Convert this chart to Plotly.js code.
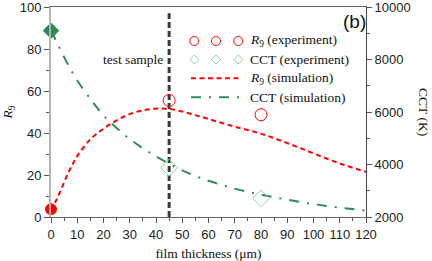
<!DOCTYPE html>
<html>
<head>
<meta charset="utf-8">
<script src="https://cdn.plot.ly/plotly-3.0.1.min.js"></script>
<style>html,body{margin:0;padding:0;background:#fff;}#chart{width:432px;height:261px;}</style>
</head>
<body>
<div id="chart"></div>
<script>
// ---- data ----
const thicknessSim = [0, 2, 4, 6, 8, 10, 15, 20, 25, 30, 35, 40, 45, 50, 55, 60, 70, 80, 90, 100, 110, 120];
const r9Sim = [3, 8, 13.5, 19.5, 24.5, 29, 37, 42, 46, 49, 50.8, 51.6, 51.5, 50.2, 48.5, 46.7, 43, 39.7, 35.2, 30.3, 25.5, 21.5];
const cctSim = [9100, 8700, 8290, 7900, 7530, 7200, 6500, 5870, 5390, 4970, 4620, 4310, 4030, 3780, 3560, 3380, 3080, 2850, 2660, 2490, 2360, 2240];
const thicknessExp = [0, 45, 80];
const r9Exp = [3.7, 55.5, 48.7];
const cctExp = [9100, 3880, 2710];
const testSample = [45];
const xTicks = [0, 10, 20, 30, 40, 50, 60, 70, 80, 90, 100, 110, 120];
const r9Ticks = [0, 20, 40, 60, 80, 100];
const cctTicks = [2000, 4000, 6000, 8000, 10000];
const cctTickText = ['2000', '4000', '6000', '8000', '10000'];

const RED = '#ff0000';
const GREEN = '#2e8b57';
const LGREEN = '#8ccfae';
const serif = 'Liberation Serif';
const sans = 'Liberation Sans';

const traces = [
  { x: [testSample[0], testSample[0]], y: [0, 97], mode: 'lines', xaxis: 'x', yaxis: 'y',
    line: { color: '#3a3a3a', width: 3, dash: '6px,3px' }, showlegend: false, hoverinfo: 'skip' },
  { x: thicknessSim, y: r9Sim, mode: 'lines', xaxis: 'x', yaxis: 'y', line: { color: RED, width: 2, dash: '5px,3.5px', shape: 'spline' }, showlegend: false },
  { x: thicknessSim, y: cctSim, mode: 'lines', xaxis: 'x', yaxis: 'y2', line: { color: GREEN, width: 2, dash: '10px,8px,2px,8px', shape: 'spline' }, showlegend: false },
  { x: thicknessExp, y: r9Exp, mode: 'markers', xaxis: 'x', yaxis: 'y', showlegend: false, cliponaxis: false,
    marker: { symbol: ['circle', 'circle-open', 'circle-open'], size: [11, 12, 12], color: RED, opacity: 1, line: { color: RED, width: 1 } } },
  { x: thicknessExp, y: cctExp, mode: 'markers', xaxis: 'x', yaxis: 'y2', showlegend: false, cliponaxis: false,
    marker: { symbol: ['diamond', 'diamond-open', 'diamond-open'], size: [12, 13, 13], color: [GREEN, LGREEN, LGREEN], opacity: 1, line: { color: [GREEN, LGREEN, LGREEN], width: 1 } } }
];

// custom legend (layout shapes + text)
const px2x = p => (p - 51) / 315;
const px2y = p => (217 - p) / 210;
const legCols = [194.3, 216, 238.3];
const shapes = [];
legCols.forEach(c => {
  shapes.push({ type: 'circle', xref: 'paper', yref: 'paper', xsizemode: 'pixel', ysizemode: 'pixel',
    xanchor: px2x(c), yanchor: px2y(41), x0: -4.5, x1: 4.5, y0: -4.5, y1: 4.5, line: { color: RED, width: 1 } });
  shapes.push({ type: 'path', xref: 'paper', yref: 'paper', xsizemode: 'pixel', ysizemode: 'pixel',
    xanchor: px2x(c), yanchor: px2y(59.5), path: 'M0,-4.5 L4.5,0 L0,4.5 L-4.5,0 Z', line: { color: LGREEN, width: 1 } });
});
shapes.push({ type: 'line', xref: 'paper', yref: 'paper', x0: px2x(191), x1: px2x(242), y0: px2y(78.3), y1: px2y(78.3), line: { color: RED, width: 2, dash: '5px,3.5px' } });
shapes.push({ type: 'line', xref: 'paper', yref: 'paper', x0: px2x(191), x1: px2x(242), y0: px2y(97.3), y1: px2y(97.3), line: { color: GREEN, width: 2, dash: '10px,8px,2px,8px' } });

const legText = ['<i>R</i><sub>9</sub> (experiment)', 'CCT (experiment)', '<i>R</i><sub>9</sub> (simulation)', 'CCT (simulation)'];
const legRows = [41, 59.5, 78.3, 97.3];
const annotations = legText.map((t, i) => ({
  text: t, xref: 'paper', yref: 'paper', x: px2x(248), y: px2y(legRows[i]), xanchor: 'left', yanchor: 'middle',
  showarrow: false, font: { family: serif, size: 13.5, color: '#111' }
}));
annotations.push({ text: 'test sample', xref: 'x', yref: 'y', x: testSample[0] - 1.6, y: 74.8, xanchor: 'right', yanchor: 'middle',
  showarrow: false, font: { family: serif, size: 13.5, color: '#111' } });
annotations.push({ text: '(b)', xref: 'paper', yref: 'paper', x: px2x(354), y: px2y(22), xanchor: 'center', yanchor: 'middle',
  showarrow: false, font: { family: sans, size: 19, color: '#111' } });
annotations.push({ text: 'CCT (K)', xref: 'paper', yref: 'paper', x: px2x(424), y: 0.5, xanchor: 'center', yanchor: 'middle', textangle: 90,
  showarrow: false, font: { family: serif, size: 13.5, color: '#111' } });

const tickFont = { family: sans, size: 13, color: '#222' };
const layout = {
  width: 432, height: 261,
  margin: { l: 51, r: 66, t: 7, b: 44 },
  paper_bgcolor: '#fff', plot_bgcolor: '#fff',
  showlegend: false,
  font: { family: sans, size: 13, color: '#222' },
  xaxis: {
    range: [0, 120], tickvals: xTicks, ticks: 'outside', ticklen: 5, tickcolor: '#555', tickwidth: 1,
    showline: true, linecolor: '#666', linewidth: 1, mirror: true, showgrid: false, zeroline: false,
    minor: { dtick: 5, tick0: 0, ticks: 'outside', ticklen: 3, tickcolor: '#555' },
    tickfont: tickFont, ticklabeloverflow: 'allow',
    title: { text: 'film thickness (\u03bcm)', font: { family: serif, size: 13.5, color: '#111' }, standoff: 7 }
  },
  yaxis: {
    range: [0, 100], tickvals: r9Ticks, ticks: 'outside', ticklen: 5, tickcolor: '#555',
    showline: true, linecolor: '#b5b5b5', linewidth: 2, showgrid: false, zeroline: false,
    minor: { dtick: 10, tick0: 0, ticks: 'outside', ticklen: 3, tickcolor: '#555' },
    tickfont: tickFont, ticklabeloverflow: 'allow',
    title: { text: '<i>R</i><sub>9</sub>', font: { family: serif, size: 13.5, color: '#111' }, standoff: 4 }
  },
  yaxis2: {
    range: [2000, 10000], tickvals: cctTicks, ticktext: cctTickText, overlaying: 'y', side: 'right', anchor: 'x',
    ticks: 'outside', ticklen: 5, tickcolor: '#555',
    showline: true, linecolor: '#444', linewidth: 1, showgrid: false, zeroline: false,
    minor: { dtick: 1000, tick0: 0, ticks: 'outside', ticklen: 3, tickcolor: '#555' },
    tickfont: tickFont, ticklabeloverflow: 'allow'
  },
  shapes: shapes,
  annotations: annotations
};

Plotly.newPlot('chart', traces, layout, { staticPlot: true, displayModeBar: false });
</script>
</body>
</html>
